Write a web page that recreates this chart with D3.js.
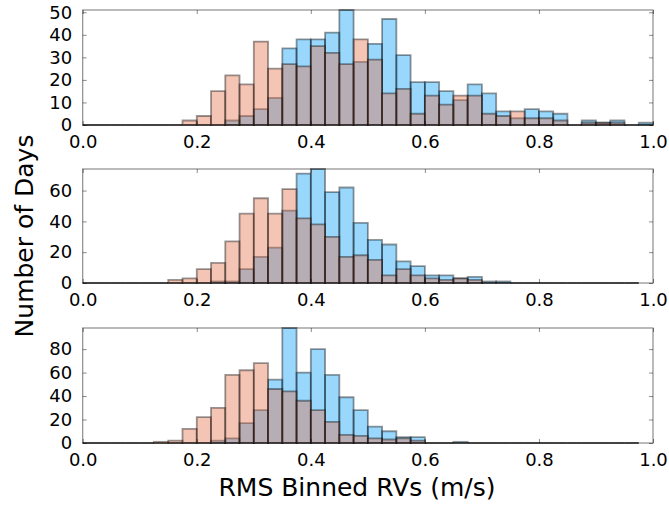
<!DOCTYPE html>
<html>
<head>
<meta charset="utf-8">
<script src="https://cdn.jsdelivr.net/npm/d3@7"></script>
<style>
  html, body { margin: 0; padding: 0; background: #fff; }
  svg { display: block; font-family: "DejaVu Sans", sans-serif; }
</style>
</head>
<body>
<svg id="chart" width="669" height="505"></svg>
<script>
// ---- data ----
const binWidth = 0.025;               // histogram bin width (m/s)
const xTicks = [0.0, 0.2, 0.4, 0.6, 0.8, 1.0];

const panel1Blue   = [0,0,0,0,0,0,0,0,0,0, 2,4,7,12,34,38,38,41,51,28, 36,47,31,19,19,15,11,18,14,6, 3,7,6,5,0,2,1,2,0,1];
const panel1Orange = [0,0,0,0,0,0,0,2,4,15, 22,18,37,25,27,26,35,32,27,38, 29,14,16,5,13,9,13,13,5,4, 6,3,3,2,0,1,1,1,0,0];
const yTicks1 = [0, 10, 20, 30, 40, 50];

const panel2Blue   = [0,0,0,0,0,0,0,0,0,1, 1,9,17,23,47,71,74,59,62,39, 28,25,14,11,5,5,3,4,1,1, 0,0,0,0,0,0,0,0,0];
const panel2Orange = [0,0,0,0,0,0,2,3,9,13, 27,45,55,45,61,42,38,30,17,18, 15,5,9,5,3,2,3,2,0,0, 0,0,0,0,0,0,0,0,0];
const yTicks2 = [0, 20, 40, 60];

const panel3Blue   = [0,0,0,0,0,0,0,0,0,2, 4,17,28,54,98,60,80,58,39,28, 14,10,5,5,0,0,1,0,0,0, 0,0,0,0,0,0,0,0,0];
const panel3Orange = [0,0,0,0,0,1,2,12,22,30, 58,62,68,46,44,36,28,18,7,6, 4,3,4,2,0,0,0,0,0,0, 0,0,0,0,0,0,0,0,0];
const yTicks3 = [0, 20, 40, 60, 80];

const xLabel = "RMS Binned RVs (m/s)";
const yLabel = "Number of Days";

// ---- layout ----
const left = 82.7, right = 653;
const panels = [
  { blue: panel1Blue, orange: panel1Orange, yTicks: yTicks1, top: 10,  bottom: 125 },
  { blue: panel2Blue, orange: panel2Orange, yTicks: yTicks2, top: 169, bottom: 283 },
  { blue: panel3Blue, orange: panel3Orange, yTicks: yTicks3, top: 328, bottom: 443 }
];
const blueFill = "rgba(0,154,250,0.4)";
const orangeFill = "rgba(227,111,71,0.4)";
const barStroke = "rgba(0,0,0,0.4)";
const frameStroke = "rgba(0,0,0,0.45)";
const tickFont = 18;

const svg = d3.select("#chart");
const x = d3.scaleLinear().domain([0, 1]).range([left, right]);

function barPath(values, y) {
  return values.map((v, i) => {
    const x0 = x(i * binWidth), x1 = x((i + 1) * binWidth);
    const y0 = y(0), y1 = y(v);
    return `M${x0},${y0}V${y1}H${x1}V${y0}Z`;
  });
}

panels.forEach(p => {
  const ymax = d3.max(p.blue.concat(p.orange));
  const y = d3.scaleLinear().domain([0, ymax]).range([p.bottom, p.top]);
  const g = svg.append("g");

  // series 1 (blue), then series 2 (orange) on top
  [[p.blue, blueFill], [p.orange, orangeFill]].forEach(([vals, fill]) => {
    g.append("g").selectAll("path")
      .data(barPath(vals, y))
      .join("path")
      .attr("d", d => d)
      .attr("fill", fill)
      .attr("stroke", barStroke)
      .attr("stroke-width", 1.8)
      .attr("stroke-linejoin", "miter");
  });

  // frame
  g.append("rect")
    .attr("x", left).attr("y", p.top)
    .attr("width", right - left).attr("height", p.bottom - p.top)
    .attr("fill", "none").attr("stroke", frameStroke).attr("stroke-width", 1.2);

  // axes with inward ticks
  const styleAxis = sel => {
    sel.select(".domain").remove();
    sel.selectAll(".tick line").attr("stroke", frameStroke).attr("stroke-width", 1);
    sel.selectAll(".tick text").attr("fill", "#000").attr("font-size", tickFont)
       .attr("font-family", "DejaVu Sans, sans-serif");
  };
  g.append("g").attr("transform", `translate(0,${p.bottom})`)
    .call(d3.axisBottom(x).tickValues(xTicks).tickFormat(d3.format(".1f"))
      .tickSizeInner(-4).tickSizeOuter(0).tickPadding(10.5))
    .call(styleAxis);
  g.append("g").attr("transform", `translate(0,${p.top})`)
    .call(d3.axisTop(x).tickValues(xTicks).tickFormat("")
      .tickSizeInner(-4).tickSizeOuter(0))
    .call(styleAxis);
  g.append("g").attr("transform", `translate(${left},0)`)
    .call(d3.axisLeft(y).tickValues(p.yTicks).tickFormat(d3.format("d"))
      .tickSizeInner(-4).tickSizeOuter(0).tickPadding(10.5))
    .call(styleAxis);
  g.append("g").attr("transform", `translate(${right},0)`)
    .call(d3.axisRight(y).tickValues(p.yTicks).tickFormat("")
      .tickSizeInner(-4).tickSizeOuter(0))
    .call(styleAxis);
});

// axis titles
svg.append("text")
  .attr("x", 357).attr("y", 496)
  .attr("text-anchor", "middle").attr("font-size", 25).attr("fill", "#000")
  .text(xLabel);
svg.append("text")
  .attr("transform", `translate(33,${236}) rotate(-90)`)
  .attr("text-anchor", "middle").attr("font-size", 25).attr("fill", "#000")
  .text(yLabel);
</script>
</body>
</html>
